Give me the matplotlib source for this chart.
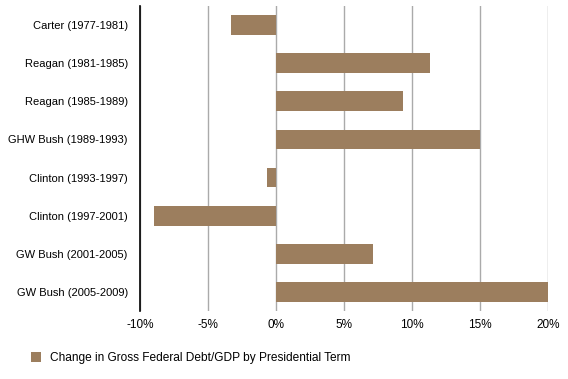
import matplotlib.pyplot as plt
from matplotlib.patches import Patch

terms = ["Carter (1977-1981)", "Reagan (1981-1985)", "Reagan (1985-1989)",
         "GHW Bush (1989-1993)", "Clinton (1993-1997)", "Clinton (1997-2001)",
         "GW Bush (2001-2005)", "GW Bush (2005-2009)"]
change = [-3.3, 11.3, 9.3, 15.0, -0.7, -9.0, 7.1, 20.0]  # percent
xticks = [-10, -5, 0, 5, 10, 15, 20]
xlabels = ["%d%%" % t for t in xticks]

bar_color = "#9c7e5e"
plt.rcParams['font.family'] = ['Liberation Sans', 'DejaVu Sans']

fig = plt.figure(figsize=(5.68, 3.79), dpi=100)
ax = fig.add_axes([0.247, 0.1794, 0.7183, 0.8048])

ypos = list(range(len(terms)))
ax.barh(ypos, change, height=0.52, color=bar_color, zorder=3)

ax.set_ylim(len(terms) - 0.5, -0.5)
ax.set_xlim(-10, 20)
ax.set_yticks(ypos)
ax.set_yticklabels(terms, fontsize=8)
ax.set_xticks(xticks)
ax.set_xticklabels(xlabels, fontsize=8.5)
ax.tick_params(length=0, pad=9)
ax.tick_params(axis='x', pad=6)
ax.grid(axis='x', color='#aaaaaa', linewidth=1)
for s in ['top', 'right', 'bottom']:
    ax.spines[s].set_visible(False)
ax.spines['left'].set_color('black')
ax.spines['left'].set_linewidth(1.2)
ax.spines['left'].set_zorder(4)

handle = Patch(facecolor=bar_color, edgecolor='none')
fig.legend([handle], ["Change in Gross Federal Debt/GDP by Presidential Term"],
           loc='center left', bbox_to_anchor=(0.035, 0.055), frameon=False,
           fontsize=8.6, handlelength=0.85, handleheight=0.85, handletextpad=0.8)

fig.savefig("out.png", dpi=100)
